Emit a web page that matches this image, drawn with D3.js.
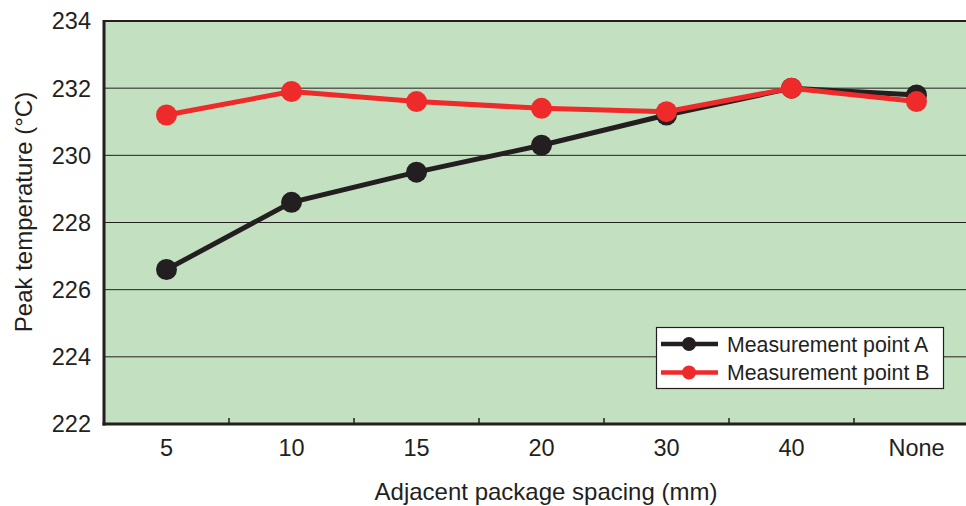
<!DOCTYPE html>
<html><head><meta charset="utf-8">
<script src="https://cdn.jsdelivr.net/npm/d3@7"></script>
<style>body{margin:0;background:#fff}svg{display:block}text{font-family:"Liberation Sans",Arial,sans-serif;fill:#231f20}</style>
</head><body>
<svg id="c" width="966" height="506"></svg>
<script>
const categories = ["5","10","15","20","30","40","None"];
const seriesA = [226.6, 228.6, 229.5, 230.3, 231.2, 232.0, 231.8];
const seriesB = [231.2, 231.9, 231.6, 231.4, 231.3, 232.0, 231.6];
const yTicks = [222, 224, 226, 228, 230, 232, 234];
const seriesNames = ["Measurement point A", "Measurement point B"];
const colors = ["#231f20", "#ee2a2a"];

const svg = d3.select("#c");
const L = 104, R = 979, T = 21, B = 424;
const x = d3.scaleBand().domain(categories).range([L, R]);
const y = d3.scaleLinear().domain([222, 234]).range([B, T]);

svg.append("rect").attr("x", L).attr("y", T).attr("width", R - L).attr("height", B - T).attr("fill", "#c3e1c1");

// gridlines
svg.append("g").selectAll("line").data(yTicks.filter(d => d > 222 && d < 234)).join("line")
  .attr("x1", L).attr("x2", R).attr("y1", d => y(d)).attr("y2", d => y(d))
  .attr("stroke", "#231f20").attr("stroke-width", 1);

// top border
svg.append("line").attr("x1", L).attr("x2", R).attr("y1", T).attr("y2", T).attr("stroke", "#231f20").attr("stroke-width", 2);

// x ticks at band boundaries (inward)
svg.append("g").selectAll("line").data(categories.slice(1)).join("line")
  .attr("x1", d => x(d)).attr("x2", d => x(d)).attr("y1", B).attr("y2", B - 6)
  .attr("stroke", "#231f20").attr("stroke-width", 1.5);

// axes lines
svg.append("line").attr("x1", L).attr("x2", L).attr("y1", T - 1).attr("y2", B + 1.5).attr("stroke", "#231f20").attr("stroke-width", 3);
svg.append("line").attr("x1", L - 1.5).attr("x2", R).attr("y1", B).attr("y2", B).attr("stroke", "#231f20").attr("stroke-width", 3);

// y tick labels
svg.append("g").selectAll("text").data(yTicks).join("text")
  .attr("x", 91).attr("y", d => y(d)).attr("dy", "0.36em").attr("text-anchor", "end")
  .attr("font-size", 23.5).text(d => d);

// x tick labels
svg.append("g").selectAll("text").data(categories).join("text")
  .attr("x", d => x(d) + x.bandwidth() / 2).attr("y", 448).attr("dy", "0.36em").attr("text-anchor", "middle")
  .attr("font-size", 23.5).text(d => d);

// axis titles
svg.append("text").attr("x", 546).attr("y", 491).attr("dy", "0.36em").attr("text-anchor", "middle")
  .attr("font-size", 24).text("Adjacent package spacing (mm)");
svg.append("text").attr("transform", "translate(23,212) rotate(-90)").attr("dy", "0.36em").attr("text-anchor", "middle")
  .attr("font-size", 24).text("Peak temperature (°C)");

const line = d3.line().x((d, i) => x(categories[i]) + x.bandwidth() / 2).y(d => y(d));
[seriesA, seriesB].forEach((s, k) => {
  const g = svg.append("g");
  g.append("path").attr("d", line(s)).attr("fill", "none").attr("stroke", colors[k]).attr("stroke-width", 5);
  g.selectAll("circle").data(s).join("circle")
    .attr("cx", (d, i) => x(categories[i]) + x.bandwidth() / 2).attr("cy", d => y(d)).attr("r", 10.5)
    .attr("fill", colors[k]);
});

// legend
const lg = svg.append("g");
lg.append("rect").attr("x", 656.5).attr("y", 327.5).attr("width", 287).attr("height", 61)
  .attr("fill", "#fff").attr("stroke", "#231f20").attr("stroke-width", 1.2);
seriesNames.forEach((n, k) => {
  const yy = 344 + k * 28.5;
  lg.append("line").attr("x1", 661).attr("x2", 718).attr("y1", yy).attr("y2", yy).attr("stroke", colors[k]).attr("stroke-width", 4.5);
  lg.append("circle").attr("cx", 689).attr("cy", yy).attr("r", 7).attr("fill", colors[k]);
  lg.append("text").attr("x", 727).attr("y", yy).attr("dy", "0.36em").attr("font-size", 21.3).text(n);
});
</script>
</body></html>
